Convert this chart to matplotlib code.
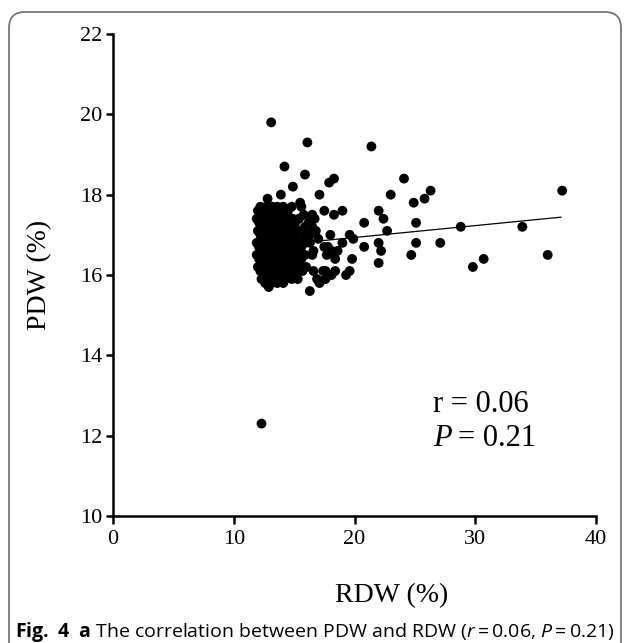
import matplotlib
matplotlib.use("Agg")
import matplotlib.pyplot as plt
from matplotlib.patches import FancyBboxPatch

# outlying points (RDW %, PDW %)
rdw_out = [13.1, 16.1, 21.4, 14.2, 15.9, 18.3, 17.9, 14.9, 24.1, 17.1, 23.0, 24.9,
           13.9, 12.8, 15.5, 17.5, 19.0, 18.3, 22.0, 22.4, 20.8, 25.1, 22.7, 16.5,
           16.7, 16.5, 18.0, 19.6, 19.9, 19.0, 17.0, 20.8, 22.0, 22.2, 25.1, 24.7,
           22.0, 19.8, 18.6, 18.4, 18.4, 19.6, 19.3, 17.6, 17.6, 16.6, 16.9, 17.1,
           16.3, 12.9, 17.5, 16.6, 16.5, 26.3, 25.8, 28.8, 33.9, 37.2, 27.1, 29.8,
           30.7, 36.0, 12.3, 18.1, 17.7, 15.8, 16.2, 15.9, 16.3, 16.8, 16.0, 17.8,
           17.4, 18.1]
pdw_out = [19.8, 19.3, 19.2, 18.7, 18.5, 18.4, 18.3, 18.2, 18.4, 18.0, 18.0, 17.8,
           18.0, 17.9, 17.8, 17.6, 17.6, 17.5, 17.6, 17.4, 17.3, 17.3, 17.1, 17.5,
           17.4, 17.2, 17.0, 17.0, 16.9, 16.8, 16.9, 16.7, 16.8, 16.6, 16.8, 16.5,
           16.3, 16.4, 16.6, 16.4, 16.1, 16.1, 16.0, 16.1, 15.9, 16.1, 15.9, 15.8,
           15.6, 15.7, 16.7, 16.6, 16.5, 18.1, 17.9, 17.2, 17.2, 18.1, 16.8, 16.2,
           16.4, 16.5, 12.3, 16.6, 16.5, 17.5, 17.3, 17.2, 17.0, 17.1, 16.9, 16.7,
           16.1, 16.0]

# dense cluster around RDW 12-16 %
rdw_core = [12.2, 12.7, 13.2, 13.6, 14.1, 14.8, 15.6,
            12.0, 12.5, 13.0, 13.5, 14.0, 14.5,
            11.9, 12.4, 12.9, 13.4, 13.9, 14.4, 14.9, 15.4,
            12.1, 12.6, 13.1, 13.6, 14.1, 14.6, 15.1,
            12.0, 12.5, 13.0, 13.5, 14.0, 14.5, 15.0, 15.5,
            12.2, 12.7, 13.2, 13.7, 14.2, 14.7, 15.2, 15.8,
            11.9, 12.4, 12.9, 13.4, 13.9, 14.4, 14.9, 15.4, 15.9, 16.3,
            12.1, 12.6, 13.1, 13.6, 14.1, 14.6, 15.1, 15.6,
            11.9, 12.4, 12.9, 13.4, 13.9, 14.4, 14.9, 15.4, 15.9,
            12.1, 12.6, 13.1, 13.6, 14.1, 14.6, 15.1, 15.6,
            12.0, 12.5, 13.0, 13.5, 14.0, 14.5, 15.0, 15.5, 16.0,
            12.2, 12.7, 13.2, 13.7, 14.2, 14.7, 15.2, 15.7,
            12.3, 12.8, 13.3, 13.8, 14.3, 14.8, 15.3,
            12.6, 13.1, 13.6, 14.1]
pdw_core = [17.7, 17.7, 17.7, 17.7, 17.7, 17.7, 17.7,
            17.6, 17.6, 17.6, 17.6, 17.6, 17.6,
            17.4, 17.4, 17.4, 17.4, 17.4, 17.4, 17.4, 17.4,
            17.3, 17.3, 17.3, 17.3, 17.3, 17.3, 17.3,
            17.1, 17.1, 17.1, 17.1, 17.1, 17.1, 17.1, 17.1,
            17.0, 17.0, 17.0, 17.0, 17.0, 17.0, 17.0, 17.0,
            16.8, 16.8, 16.8, 16.8, 16.8, 16.8, 16.8, 16.8, 16.8, 16.8,
            16.7, 16.7, 16.7, 16.7, 16.7, 16.7, 16.7, 16.7,
            16.5, 16.5, 16.5, 16.5, 16.5, 16.5, 16.5, 16.5, 16.5,
            16.4, 16.4, 16.4, 16.4, 16.4, 16.4, 16.4, 16.4,
            16.2, 16.2, 16.2, 16.2, 16.2, 16.2, 16.2, 16.2, 16.2,
            16.1, 16.1, 16.1, 16.1, 16.1, 16.1, 16.1, 16.1,
            15.9, 15.9, 15.9, 15.9, 15.9, 15.9, 15.9,
            15.8, 15.8, 15.8, 15.8]

# regression line end points
fit_x = [12.1, 37.1]
fit_y = [16.70, 17.44]

x_ticks = [0, 10, 20, 30, 40]
y_ticks = [10, 12, 14, 16, 18, 20, 22]

serif = "Liberation Serif"
plt.rcParams["mathtext.fontset"] = "custom"
plt.rcParams["mathtext.rm"] = "Open Sans"
plt.rcParams["mathtext.it"] = "Open Sans:italic"
plt.rcParams["mathtext.bf"] = "Open Sans:bold"

W, H = 630, 643
fig = plt.figure(figsize=(W / 100, H / 100), dpi=100)

# rounded frame around the whole figure
frame = FancyBboxPatch((9 / W, -20 / H), 612 / W, (H - 12 + 20) / H,
                       boxstyle="round,pad=0,rounding_size=0.025",
                       transform=fig.transFigure, fill=False,
                       edgecolor="#6b6b6b", linewidth=1.2)
fig.patches.append(frame)

ax = fig.add_axes([113 / W, (H - 516) / H, (596 - 113) / W, (516 - 34) / H])
ax.scatter(rdw_core + rdw_out, pdw_core + pdw_out, s=50, color="black",
           edgecolors="none", zorder=3)
ax.plot(fit_x, fit_y, color="black", linewidth=0.9, zorder=2)

ax.set_xlim(0, 40)
ax.set_ylim(10, 22)
ax.set_xticks(x_ticks)
ax.set_yticks(y_ticks)
for s in ["top", "right"]:
    ax.spines[s].set_visible(False)
for s in ["left", "bottom"]:
    ax.spines[s].set_linewidth(1.8)
ax.tick_params(direction="out", length=5, width=1.8, pad=3, labelsize=16)
ax.tick_params(axis="x", length=6, pad=4)
for lab in ax.get_xticklabels() + ax.get_yticklabels():
    lab.set_family(serif)

fig.text(40 / W, 1 - 275 / H, "PDW (%)", rotation=90, ha="center", va="center",
         family=serif, fontsize=20)
fig.text(392 / W, 1 - 596 / H, "RDW (%)", ha="center", va="center",
         family=serif, fontsize=20)

# r and P annotation
ax.text(433 / W, 1 - 404 / H, "r = 0.06", transform=fig.transFigure,
        ha="left", va="center", family=serif, fontsize=22)
ax.text(433 / W, 1 - 439 / H, "P", transform=fig.transFigure, ha="left",
        va="center", family=serif, style="italic", fontsize=22)
ax.text(458 / W, 1 - 439 / H, "= 0.21", transform=fig.transFigure, ha="left",
        va="center", family=serif, fontsize=22)

fig.text(15 / W, 1 - 637 / H,
         r"$\mathbf{Fig.\ 4}$  $\mathbf{a}$ The correlation between PDW and RDW "
         r"($r = $0.06, $P = $0.21)",
         ha="left", va="baseline", family="Open Sans", fontsize=14)

fig.savefig("out.png", dpi=100)
